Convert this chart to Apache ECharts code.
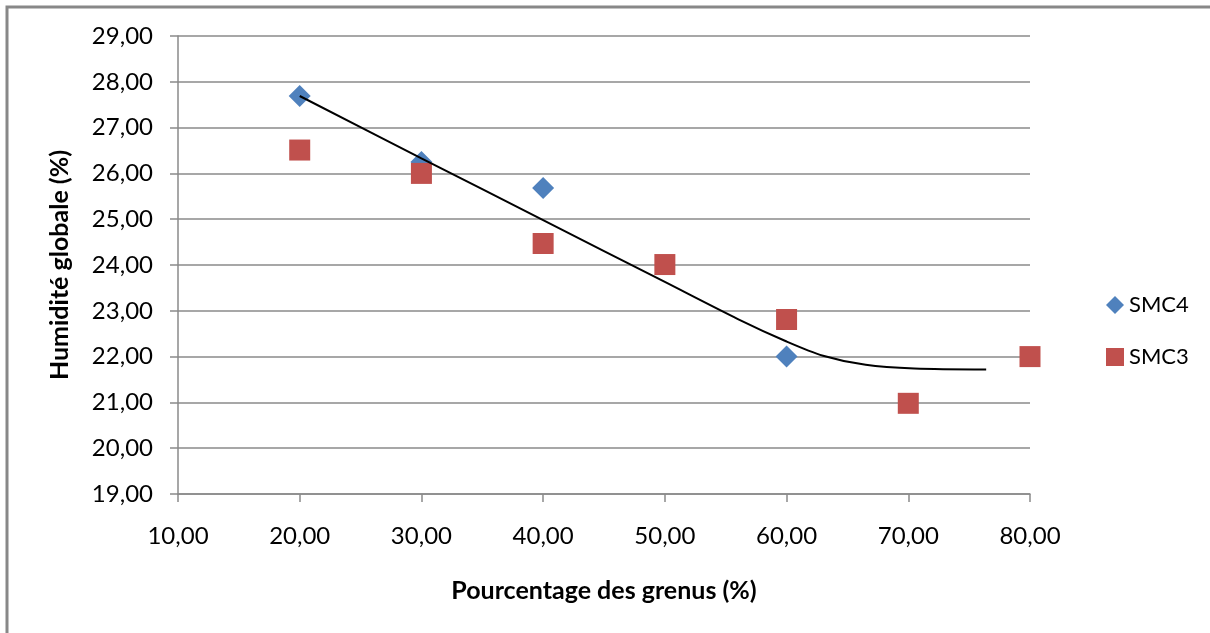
<!DOCTYPE html>
<html>
<head>
    <meta charset="UTF-8">
    <title></title>
    <script type="text/javascript" src="https://cdn.jsdelivr.net/npm/echarts@6/dist/echarts.min.js"></script>
    <style type="text/css">
        html, body {
            margin: 0;
            padding: 0;
            background: #fff;
        }
        #chart {
            width: 1210px;
            height: 633px;
        }
    </style>
</head>
<body>
<div id="chart"></div>

<script type="text/javascript">
    // valeurs
    var smc4X = [20, 30, 40, 60];
    var smc4Y = [27.69, 26.25, 25.68, 22.0];

    var smc3X = [20, 30, 40, 50, 60, 70, 80];
    var smc3Y = [26.51, 26.0, 24.47, 24.01, 22.81, 20.98, 22.0];

    // courbe de tendance tracée à la main
    var trendX = [20, 30, 40, 50, 56, 60, 63, 66.5, 70.5, 76.4];
    var trendY = [27.69, 26.33, 24.98, 23.63, 22.82, 22.33, 22.02, 21.82, 21.74, 21.72];

    function pairs(xs, ys) {
        var out = [];
        for (var i = 0; i < xs.length; i++) {
            out.push([xs[i], ys[i]]);
        }
        return out;
    }

    function fmt(v) {
        return v.toFixed(2).replace('.', ',');
    }

    var font = 'Lato, "Open Sans", sans-serif';
    var gridColor = '#8a8a8a';

    var chart = echarts.init(document.getElementById('chart'));
    chart.setOption({
        animation: false,
        backgroundColor: '#fff',
        textStyle: { fontFamily: font },
        graphic: [{
            type: 'rect',
            shape: { x: 7, y: 7, width: 1230, height: 700 },
            style: { fill: 'none', stroke: '#888', lineWidth: 3 },
            silent: true
        }],
        grid: { left: 178, right: 180, top: 36, bottom: 139 },
        legend: {
            orient: 'vertical',
            left: 1101,
            top: 289,
            itemWidth: 18,
            itemHeight: 18,
            itemGap: 30,
            textStyle: { fontSize: 22, color: '#000', fontFamily: font },
            data: [
                { name: 'SMC4', icon: 'diamond' },
                { name: 'SMC3', icon: 'rect' }
            ]
        },
        xAxis: {
            type: 'value',
            min: 10,
            max: 80,
            interval: 10,
            name: 'Pourcentage des grenus (%)',
            nameLocation: 'middle',
            nameGap: 84,
            nameTextStyle: { fontSize: 25, fontWeight: 'bold', color: '#000', fontFamily: font },
            axisLine: { lineStyle: { color: gridColor, width: 1.5 } },
            axisTick: { show: true, length: 8, lineStyle: { color: gridColor, width: 1.5 } },
            axisLabel: { fontSize: 24, color: '#000', margin: 30, formatter: fmt },
            splitLine: { show: false }
        },
        yAxis: {
            type: 'value',
            min: 19,
            max: 29,
            interval: 1,
            name: 'Humidité globale (%)',
            nameLocation: 'middle',
            nameGap: 106,
            nameTextStyle: { fontSize: 25, fontWeight: 'bold', color: '#000', fontFamily: font },
            axisLine: { show: true, lineStyle: { color: gridColor, width: 1.5 } },
            axisTick: { show: true, length: 8, lineStyle: { color: gridColor, width: 1.5 } },
            axisLabel: { fontSize: 24, color: '#000', margin: 25, formatter: fmt },
            splitLine: { show: true, lineStyle: { color: gridColor, width: 1.5 } }
        },
        series: [
            {
                name: 'SMC4',
                type: 'scatter',
                symbol: 'diamond',
                symbolSize: 22,
                itemStyle: { color: '#4F81BD', opacity: 1 },
                data: pairs(smc4X, smc4Y)
            },
            {
                name: 'SMC3',
                type: 'scatter',
                symbol: 'rect',
                symbolSize: 21,
                itemStyle: { color: '#C0504D', opacity: 1 },
                data: pairs(smc3X, smc3Y)
            },
            {
                name: 'tendance',
                type: 'line',
                smooth: 0.3,
                showSymbol: false,
                symbol: 'none',
                lineStyle: { color: '#000', width: 2 },
                data: pairs(trendX, trendY)
            }
        ]
    });
</script>

</body>
</html>
